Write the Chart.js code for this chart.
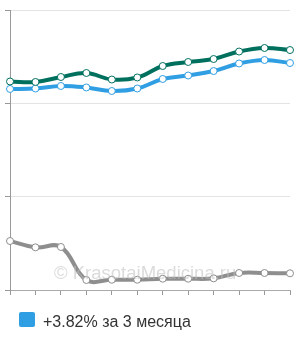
<!DOCTYPE html>
<html>
<head>
<meta charset="utf-8">
<script src="https://cdn.jsdelivr.net/npm/chart.js@4"></script>
<style>
  html, body { margin: 0; padding: 0; background: #fff; }
  #wrap { position: relative; width: 300px; height: 340px; }
  #c { position: absolute; left: 0; top: 0; }
  .box { position: absolute; left: 19px; top: 312px; width: 16px; height: 15px; background: #2f9ee3; border-radius: 2px; }
  #legendText { position: absolute; left: 43px; top: 314px; font-family: "Liberation Sans", Arial, sans-serif; font-size: 16px; line-height: 16px; color: #333; white-space: nowrap; }
  #wm { position: absolute; left: 54px; top: 262px; font-family: "Liberation Sans", Arial, sans-serif; font-size: 18.5px; color: rgba(190,190,190,0.55); pointer-events: none; white-space: nowrap; }
</style>
</head>
<body>
<div id="wrap">
  <canvas id="c" width="300" height="300"></canvas>
  <div id="wm">© KrasotaiMedicina.ru</div>
  <span class="box"></span><span id="legendText"></span>
</div>
<script>
const categories = ["1","2","3","4","5","6","7","8","9","10","11","12"];
const greenValues = [2.234, 2.229, 2.282, 2.325, 2.255, 2.277, 2.400, 2.443, 2.475, 2.555, 2.593, 2.571];
const blueValues  = [2.154, 2.159, 2.186, 2.170, 2.132, 2.159, 2.261, 2.298, 2.346, 2.427, 2.464, 2.432];
const grayValues  = [0.525, 0.457, 0.461, 0.107, 0.110, 0.110, 0.121, 0.121, 0.125, 0.182, 0.182, 0.179];
const yTicks = [0, 1, 2, 3];
const legendLabel = "+3.82% за 3 месяца";

document.getElementById('legendText').textContent = legendLabel;

function ds(data, color) {
  return {
    data: data,
    borderColor: color,
    borderWidth: 4,
    tension: 0.4,
    pointRadius: 3.5,
    pointBorderWidth: 1,
    pointBackgroundColor: '#fff',
    pointBorderColor: color,
    clip: false
  };
}

new Chart(document.getElementById('c'), {
  type: 'line',
  data: {
    labels: categories,
    datasets: [ds(greenValues, '#00705e'), ds(blueValues, '#2f9ee3'), ds(grayValues, '#8e8e8e')]
  },
  options: {
    responsive: false,
    animation: false,
    events: [],
    layout: { padding: { left: 5, right: 10, top: 10, bottom: 5 } },
    plugins: { legend: { display: false }, tooltip: { enabled: false } },
    scales: {
      x: {
        offset: false,
        ticks: { display: false },
        grid: { drawOnChartArea: false, drawTicks: true, tickLength: 5, tickColor: '#999' },
        border: { color: '#aaa', width: 1 }
      },
      y: {
        min: yTicks[0],
        max: yTicks[yTicks.length - 1],
        afterBuildTicks: (s) => { s.ticks = yTicks.map(v => ({ value: v })); },
        ticks: { display: false },
        grid: { color: '#e4e4e4', tickColor: '#999', tickLength: 5, drawTicks: true },
        border: { color: '#999', width: 1 }
      }
    }
  }
});
</script>
</body>
</html>
